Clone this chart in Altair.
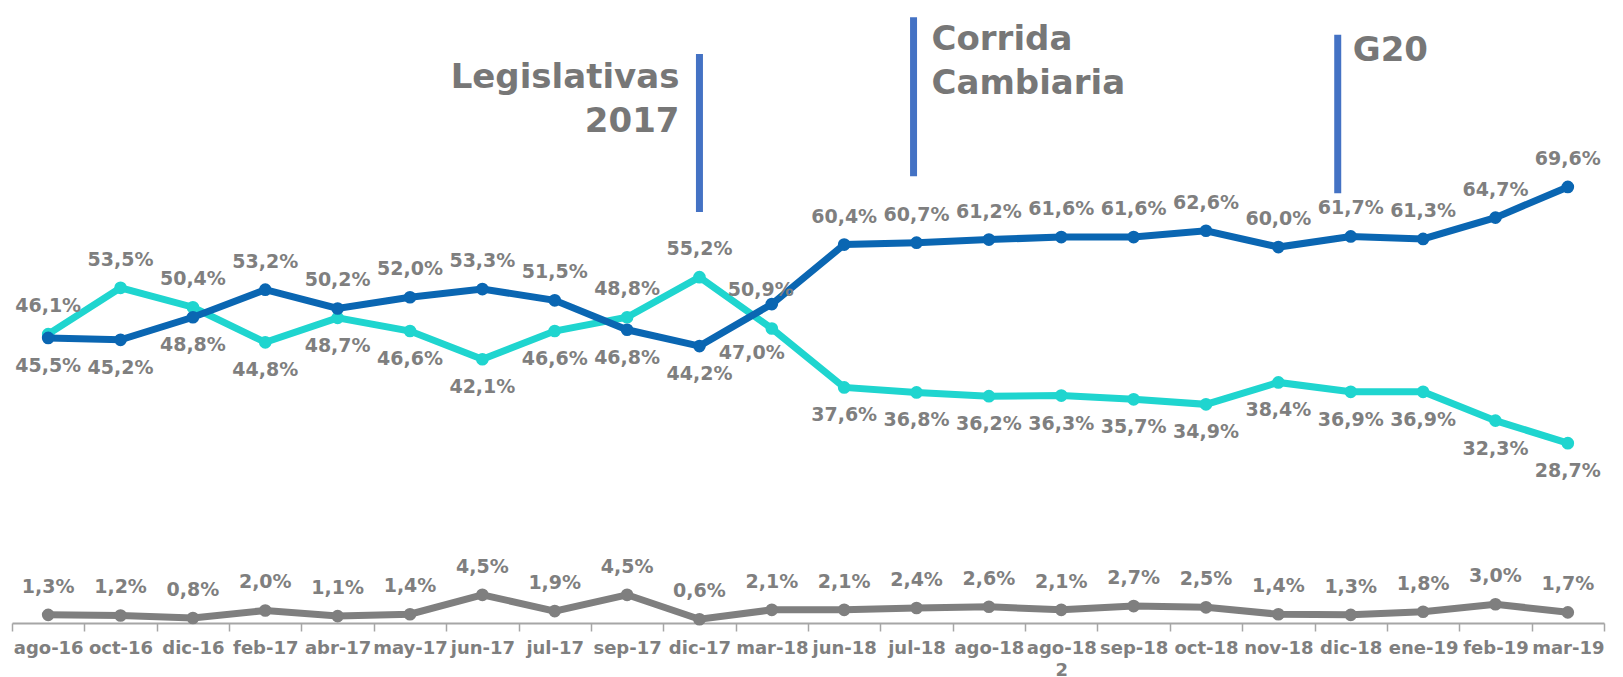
import altair as alt
import pandas as pd

# ---------------- data ----------------
categories = ["ago-16", "oct-16", "dic-16", "feb-17", "abr-17", "may-17", "jun-17",
              "jul-17", "sep-17", "dic-17", "mar-18", "jun-18", "jul-18", "ago-18",
              "ago-18 2", "sep-18", "oct-18", "nov-18", "dic-18", "ene-19", "feb-19",
              "mar-19"]

serie_azul = [45.5, 45.2, 48.8, 53.2, 50.2, 52.0, 53.3, 51.5, 46.8, 44.2, 50.9,
              60.4, 60.7, 61.2, 61.6, 61.6, 62.6, 60.0, 61.7, 61.3, 64.7, 69.6]
serie_turquesa = [46.1, 53.5, 50.4, 44.8, 48.7, 46.6, 42.1, 46.6, 48.8, 55.2, 47.0,
                  37.6, 36.8, 36.2, 36.3, 35.7, 34.9, 38.4, 36.9, 36.9, 32.3, 28.7]
serie_gris = [1.3, 1.2, 0.8, 2.0, 1.1, 1.4, 4.5, 1.9, 4.5, 0.6, 2.1,
              2.1, 2.4, 2.6, 2.1, 2.7, 2.5, 1.4, 1.3, 1.8, 3.0, 1.7]

event_labels = ["Legislativas\n2017", "Corrida\nCambiaria", "G20"]
event_cats = ["dic-17", "jul-18", "dic-18"]

# ---------------- styles ----------------
C_AZUL = "#0a66b2"
C_TURQ = "#1fd5cf"
C_GRIS = "#7f7f7f"
C_TEXT = "#7f7f7f"
C_RULE = "#4472c4"
FONT = "DejaVu Sans"
YMAX = 98


def fmt(v):
    return f"{v:.1f}".replace(".", ",") + "%"


rows = []
for i, c in enumerate(categories):
    a, t, g = serie_azul[i], serie_turquesa[i], serie_gris[i]
    rows.append(dict(cat=c, serie="azul", value=a, label=fmt(a),
                     pos="above" if a >= t else "below"))
    rows.append(dict(cat=c, serie="turquesa", value=t, label=fmt(t),
                     pos="above" if t > a else "below"))
    rows.append(dict(cat=c, serie="gris", value=g, label=fmt(g), pos="above"))
df = pd.DataFrame(rows)

x_enc = alt.X(
    "cat:N", sort=categories, title=None, bandPosition=0.5,
    scale=alt.Scale(type="band", paddingInner=0, paddingOuter=0),
    axis=alt.Axis(
        labelAngle=0, tickBand="extent", tickSize=8, tickWidth=1.5,
        tickColor="#a6a6a6", domainColor="#a6a6a6", domainWidth=2,
        labelFont=FONT, labelFontSize=18, labelFontWeight="bold",
        labelColor=C_TEXT, labelPadding=8, labelLineHeight=22,
        labelExpr="split(datum.label, ' ')", grid=False,
    ),
)
y_enc = alt.Y("value:Q", scale=alt.Scale(domain=[0, YMAX], nice=False), axis=None)

base = alt.Chart(df).encode(x=x_enc, y=y_enc)

layers = []
for serie, color in [("gris", C_GRIS), ("turquesa", C_TURQ), ("azul", C_AZUL)]:
    sub = base.transform_filter(alt.datum.serie == serie)
    layers.append(sub.mark_line(color=color, strokeWidth=7))
    layers.append(sub.mark_circle(color=color, size=160, opacity=1))

text_kw = dict(font=FONT, fontSize=19, fontWeight="bold", color=C_TEXT,
               baseline="middle", align="center")

std = base.transform_filter(alt.datum.cat != "mar-18")
layers.append(std.transform_filter(alt.datum.pos == "above")
              .mark_text(dy=-28, **text_kw).encode(text="label:N"))
layers.append(std.transform_filter(alt.datum.pos == "below")
              .mark_text(dy=28, **text_kw).encode(text="label:N"))
m18 = base.transform_filter(alt.datum.cat == "mar-18")
layers.append(m18.transform_filter(alt.datum.serie == "azul")
              .mark_text(dy=-14, dx=-11, **text_kw).encode(text="label:N"))
layers.append(m18.transform_filter(alt.datum.serie == "turquesa")
              .mark_text(dy=24, dx=-20, **text_kw).encode(text="label:N"))
layers.append(m18.transform_filter(alt.datum.serie == "gris")
              .mark_text(dy=-28, **text_kw).encode(text="label:N"))

# event annotations
ev = pd.DataFrame({
    "cat": event_cats,
    "label": event_labels,
    "y1": [90.8, 96.7, 93.9],
    "y2": [65.6, 71.3, 68.6],
    "ty": [87.0, 93.1, 91.3],
})
ev_x = alt.X("cat:N", sort=categories, bandPosition=0.5,
             scale=alt.Scale(type="band", paddingInner=0, paddingOuter=0))
rule_offsets = {"dic-17": 0, "jul-18": -3, "dic-18": -13}
text_place = {"dic-17": ("right", -20), "jul-18": ("left", 15), "dic-18": ("left", 2)}
for c in event_cats:
    sub = alt.Chart(ev).transform_filter(alt.datum.cat == c)
    layers.append(sub.mark_rule(color=C_RULE, strokeWidth=7,
                                xOffset=rule_offsets[c])
                  .encode(x=ev_x, y=alt.Y("y1:Q"), y2="y2:Q"))
    al, dx = text_place[c]
    layers.append(sub.mark_text(font=FONT, fontSize=34, fontWeight="bold",
                                color="#777777", align=al, dx=dx,
                                baseline="middle", lineBreak="\n", lineHeight=44)
                  .encode(x=ev_x, y=alt.Y("ty:Q"), text="label:N"))

chart = (
    alt.layer(*layers)
    .properties(width=1592, height=614,
                padding={"left": 3, "top": 1, "right": 5, "bottom": 2})
    .configure_view(stroke=None)
)

chart.save("out.html", embed_options={"renderer": "svg", "actions": False})
